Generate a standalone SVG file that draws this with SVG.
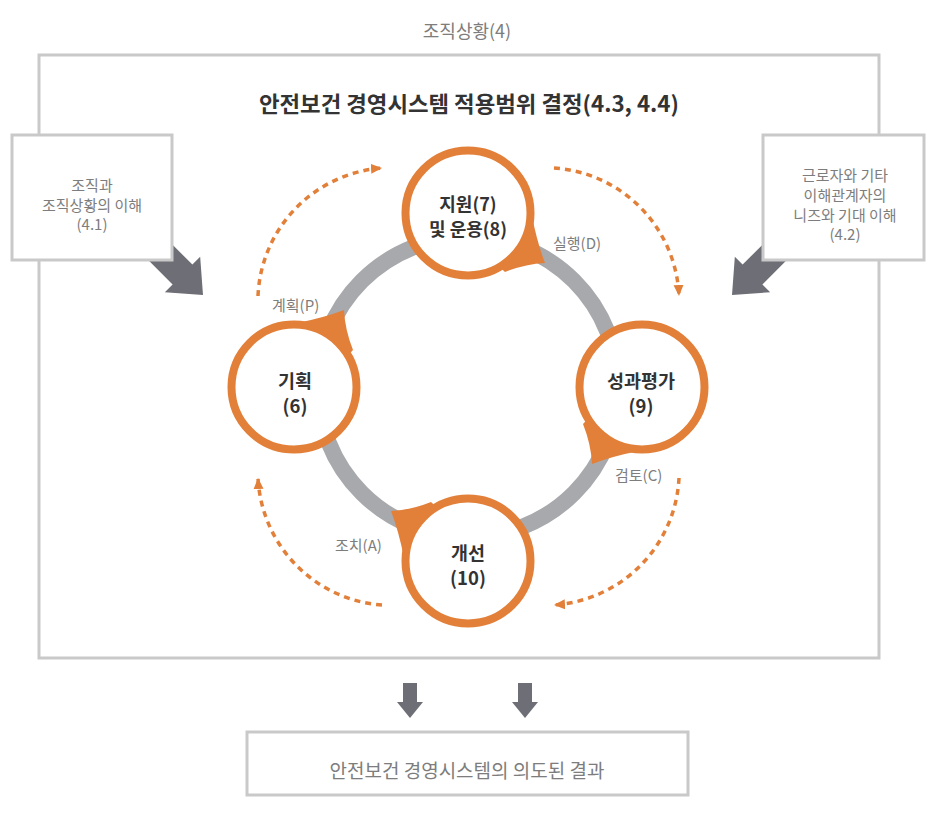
<svg xmlns="http://www.w3.org/2000/svg" xmlns:xlink="http://www.w3.org/1999/xlink" width="935" height="814" viewBox="0 0 935 814">
<style>
  .t { font-family: "Noto Sans CJK KR", "Noto Sans", sans-serif; }
  .gray { fill: #7d7d7d; }
  .dark { fill: #333333; font-weight: 700; }
  .box { fill: #ffffff; stroke: #c9c9c9; stroke-width: 3; }
  .node { fill: #ffffff; stroke: #e2803a; stroke-width: 8; }
  .tail { fill: #e2803a; }
  .ring { fill: none; stroke: #a8a9ac; stroke-width: 16; }
  .dot { fill: none; stroke: #e2803a; stroke-width: 3.5; stroke-dasharray: 6 5; marker-end: url(#ah); }
  .garrow { fill: #6e6f76; }
</style>
<defs>
  <marker id="ah" markerUnits="userSpaceOnUse" markerWidth="12" markerHeight="12" viewBox="0 0 12 12" refX="11" refY="6" orient="auto">
    <path d="M0,1 L11,6 L0,11 Z" fill="#e2803a"/>
  </marker>
  <path id="tail" class="tail" d="M532,216 Q537,242 545,263 Q525,264 505,272 L470,240 Z"/>
</defs>

<rect width="935" height="814" fill="#ffffff"/>

<text class="t gray" x="467" y="38" text-anchor="middle" font-size="18">조직상황(4)</text>

<g id="outer-box">
  <rect x="39" y="55" width="840" height="603" fill="none" stroke="#c9c9c9" stroke-width="3"/>
  <text class="t" x="469" y="112" text-anchor="middle" font-size="22" font-weight="700" fill="#333333" textLength="420" lengthAdjust="spacingAndGlyphs">안전보건 경영시스템 적용범위 결정(4.3, 4.4)</text>
</g>

<g id="connectors">
  <polygon class="garrow" transform="translate(203 295) rotate(45)" points="0,0 -29,25 -29,14 -110,14 -110,-14 -29,-14 -29,-25"/>
  <polygon class="garrow" transform="translate(732 295) rotate(135)" points="0,0 -29,25 -29,14 -110,14 -110,-14 -29,-14 -29,-25"/>
  <polygon class="garrow" points="403,683 417,683 417,702 423,702 410,718 397,702 403,702"/>
  <polygon class="garrow" points="518,683 532,683 532,702 538,702 525,718 512,702 518,702"/>
  <circle class="ring" cx="468" cy="387" r="150"/>
  <path class="dot" d="M258,296 A134,134 0 0 1 382,168"/>
  <path class="dot" d="M554,168 A134,134 0 0 1 679,296"/>
  <path class="dot" d="M679,478 A134,134 0 0 1 554,605"/>
  <path class="dot" d="M382,605 A134,134 0 0 1 258,478"/>
  <text class="t gray" x="272" y="311" font-size="15">계획(P)</text>
  <text class="t gray" x="553" y="249" font-size="15">실행(D)</text>
  <text class="t gray" x="615" y="481" font-size="15">검토(C)</text>
  <text class="t gray" x="335" y="551" font-size="15">조치(A)</text>
</g>

<g id="box-41">
  <rect class="box" x="12" y="135" width="160" height="125"/>
  <text class="t gray" x="92" y="191" text-anchor="middle" font-size="15">조직과</text>
  <text class="t gray" x="92" y="211" text-anchor="middle" font-size="15">조직상황의 이해</text>
  <text class="t gray" x="92" y="230" text-anchor="middle" font-size="15">(4.1)</text>
</g>

<g id="box-42">
  <rect class="box" x="763" y="135" width="161" height="125"/>
  <text class="t gray" x="845" y="181" text-anchor="middle" font-size="15">근로자와 기타</text>
  <text class="t gray" x="845" y="201" text-anchor="middle" font-size="15">이해관계자의</text>
  <text class="t gray" x="845" y="221" text-anchor="middle" font-size="15">니즈와 기대 이해</text>
  <text class="t gray" x="845" y="240" text-anchor="middle" font-size="15">(4.2)</text>
</g>

<g id="node-support">
  <use xlink:href="#tail"/>
  <circle class="node" cx="468" cy="213" r="62.5"/>
  <text class="t dark" x="468" y="211" text-anchor="middle" font-size="18">지원(7)</text>
  <text class="t dark" x="468" y="236" text-anchor="middle" font-size="18">및 운용(8)</text>
</g>

<g id="node-eval">
  <use xlink:href="#tail" transform="rotate(90 468 387)"/>
  <circle class="node" cx="642" cy="387" r="62.5"/>
  <text class="t dark" x="641" y="388" text-anchor="middle" font-size="18.5">성과평가</text>
  <text class="t dark" x="641" y="413" text-anchor="middle" font-size="18.5">(9)</text>
</g>

<g id="node-improve">
  <use xlink:href="#tail" transform="rotate(180 468 387)"/>
  <circle class="node" cx="468" cy="561" r="62.5"/>
  <text class="t dark" x="468" y="560" text-anchor="middle" font-size="18.5">개선</text>
  <text class="t dark" x="468" y="585" text-anchor="middle" font-size="18.5">(10)</text>
</g>

<g id="node-plan">
  <use xlink:href="#tail" transform="rotate(270 468 387)"/>
  <circle class="node" cx="294" cy="387" r="62.5"/>
  <text class="t dark" x="295" y="388" text-anchor="middle" font-size="18.5">기획</text>
  <text class="t dark" x="295" y="413" text-anchor="middle" font-size="18.5">(6)</text>
</g>

<g id="result-box">
  <rect class="box" x="247" y="732" width="441" height="63"/>
  <text class="t gray" x="467" y="778" text-anchor="middle" font-size="19">안전보건 경영시스템의 의도된 결과</text>
</g>
</svg>
